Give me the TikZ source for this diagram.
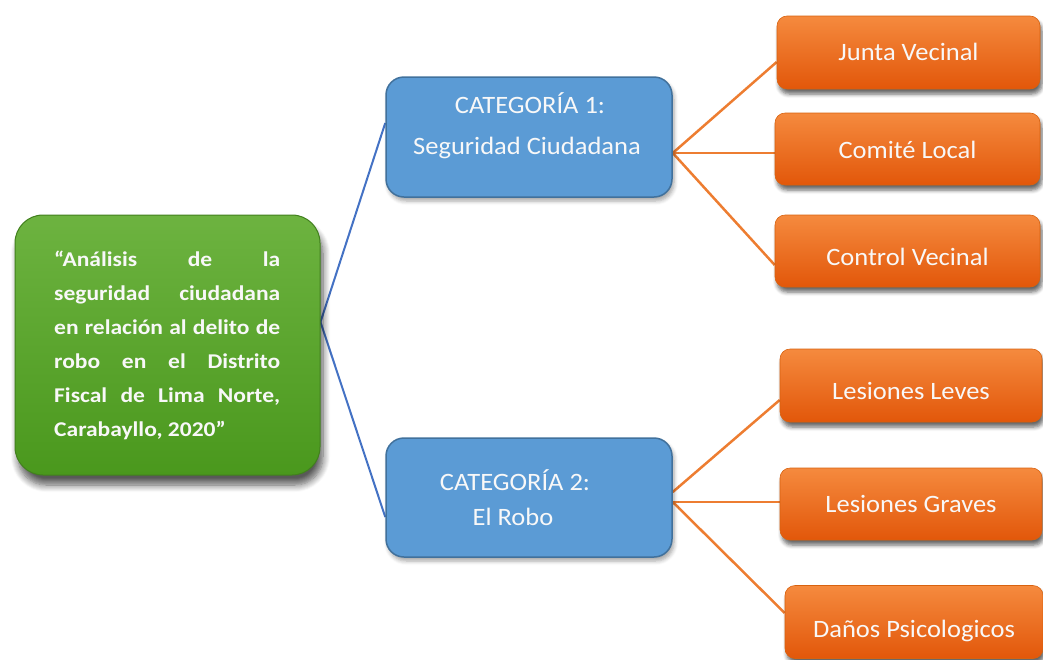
\documentclass[tikz,border=0pt]{standalone}
\usepackage{fontspec}
\setmainfont{Carlito}[FakeStretch=1.06]
\newfontfamily\greenfont{Carlito}[FakeStretch=1.12]
\usetikzlibrary{shadows,shadows.blur,backgrounds}
\definecolor{gtop}{HTML}{6DB340}
\definecolor{gbot}{HTML}{4A981D}
\definecolor{gline}{HTML}{42801E}
\definecolor{bfill}{HTML}{5B9BD5}
\definecolor{bline}{HTML}{41719C}
\definecolor{otop}{HTML}{F58A3E}
\definecolor{obot}{HTML}{E2570A}
\definecolor{oline}{HTML}{D8620F}
\definecolor{blink}{HTML}{4472C4}
\definecolor{olink}{HTML}{ED7D31}
\definecolor{txt}{HTML}{F8F8F8}
\tikzset{
  mainbox/.style={draw=gline, line width=1pt, top color=gtop, bottom color=gbot,
    rounded corners=28pt, minimum width=305pt, minimum height=260pt, inner sep=0pt,
    blur shadow={shadow xshift=3pt, shadow yshift=-10pt, shadow blur steps=8, shadow blur radius=7pt, shadow opacity=65}},
  catbox/.style={draw=bline, line width=1.5pt, fill=bfill, rounded corners=18pt,
    minimum width=286pt, minimum height=120pt, inner sep=0pt,
    blur shadow={shadow xshift=2pt, shadow yshift=-4pt, shadow blur steps=5, shadow blur radius=4pt, shadow opacity=35}},
  leafbox/.style={draw=oline, line width=0.6pt, top color=otop, bottom color=obot, rounded corners=10pt,
    minimum width=263pt, minimum height=73pt, inner sep=0pt, text=txt, font=\fontsize{25}{30}\selectfont,
    text height=16pt, text depth=0pt,
    blur shadow={shadow xshift=2pt, shadow yshift=-5pt, shadow blur steps=5, shadow blur radius=4pt, shadow opacity=60}},
  cattext/.style={text=txt, font=\fontsize{25}{30}\selectfont, inner sep=0pt},
  bluelink/.style={draw=blink, line width=2pt},
  orangelink/.style={draw=olink, line width=2.5pt},
}
\begin{document}
\begin{tikzpicture}[x=1pt,y=-1pt]
\useasboundingbox (0,0) rectangle (1043,659);
\begin{scope}
\clip (0,0) rectangle (1043,659);
% main box
\node[mainbox] (main) at (167.5,345) {};
\node[text=txt, font=\greenfont\bfseries\fontsize{21}{34}\selectfont, align=left, inner sep=0pt, anchor=north west] (maintext) at (54,251)
  {\makebox[226pt][s]{“Análisis de la}\\
   \makebox[226pt][s]{seguridad ciudadana}\\
   \makebox[226pt][s]{en relación al delito de}\\
   \makebox[226pt][s]{robo en el Distrito}\\
   \makebox[226pt][s]{Fiscal de Lima Norte,}\\
   Carabayllo, 2020”};
% category boxes
\node[catbox] (c1) at (529,137) {};
\node[cattext] (c1a) at (530,103) {CATEGORÍA 1:};
\node[cattext] (c1b) at (527,148) {Seguridad Ciudadana};
\node[catbox, minimum height=119pt] (c2) at (529,497.5) {};
\node[cattext] (c2a) at (515,480) {CATEGORÍA 2:};
\node[cattext] (c2b) at (513,517) {El Robo};
% leaves
\node[leafbox] (l1) at (908.5,52.5) {Junta Vecinal};
\node[leafbox, minimum width=265pt, minimum height=72pt] (l2) at (907.5,149) {\raisebox{-1pt}{Comité Local}};
\node[leafbox, minimum width=265pt, minimum height=72pt] (l3) at (907.5,251) {\raisebox{-6pt}{Control Vecinal}};
\node[leafbox, minimum width=262pt] (l4) at (911,385.5) {\raisebox{-6pt}{Lesiones Leves}};
\node[leafbox, minimum width=262pt, minimum height=72pt] (l5) at (911,504) {Lesiones Graves};
\node[leafbox, minimum width=258pt] (l6) at (914,622) {\raisebox{-7pt}{Daños Psicologicos}};
% connectors
\begin{scope}[on background layer]
\draw[bluelink] ([yshift=23pt]main.east) -- ([yshift=14pt]c1.west);
\draw[bluelink] ([yshift=23pt]main.east) -- ([yshift=-19.5pt]c2.west);
\draw[orangelink] ([yshift=-16pt]c1.east) -- ([yshift=-9.5pt]l1.west);
\draw[orangelink] ([yshift=-16pt]c1.east) -- ([yshift=-4pt]l2.west);
\draw[orangelink] ([yshift=-16pt]c1.east) -- ([yshift=-14pt]l3.west);
\draw[orangelink] ([yshift=5.5pt]c2.east) -- ([yshift=-14.5pt]l4.west);
\draw[orangelink] ([yshift=-4.5pt]c2.east) -- ([yshift=2pt]l5.west);
\draw[orangelink] ([yshift=-4.5pt]c2.east) -- ([yshift=9pt]l6.west);
\end{scope}
\end{scope}
\end{tikzpicture}
\end{document}
